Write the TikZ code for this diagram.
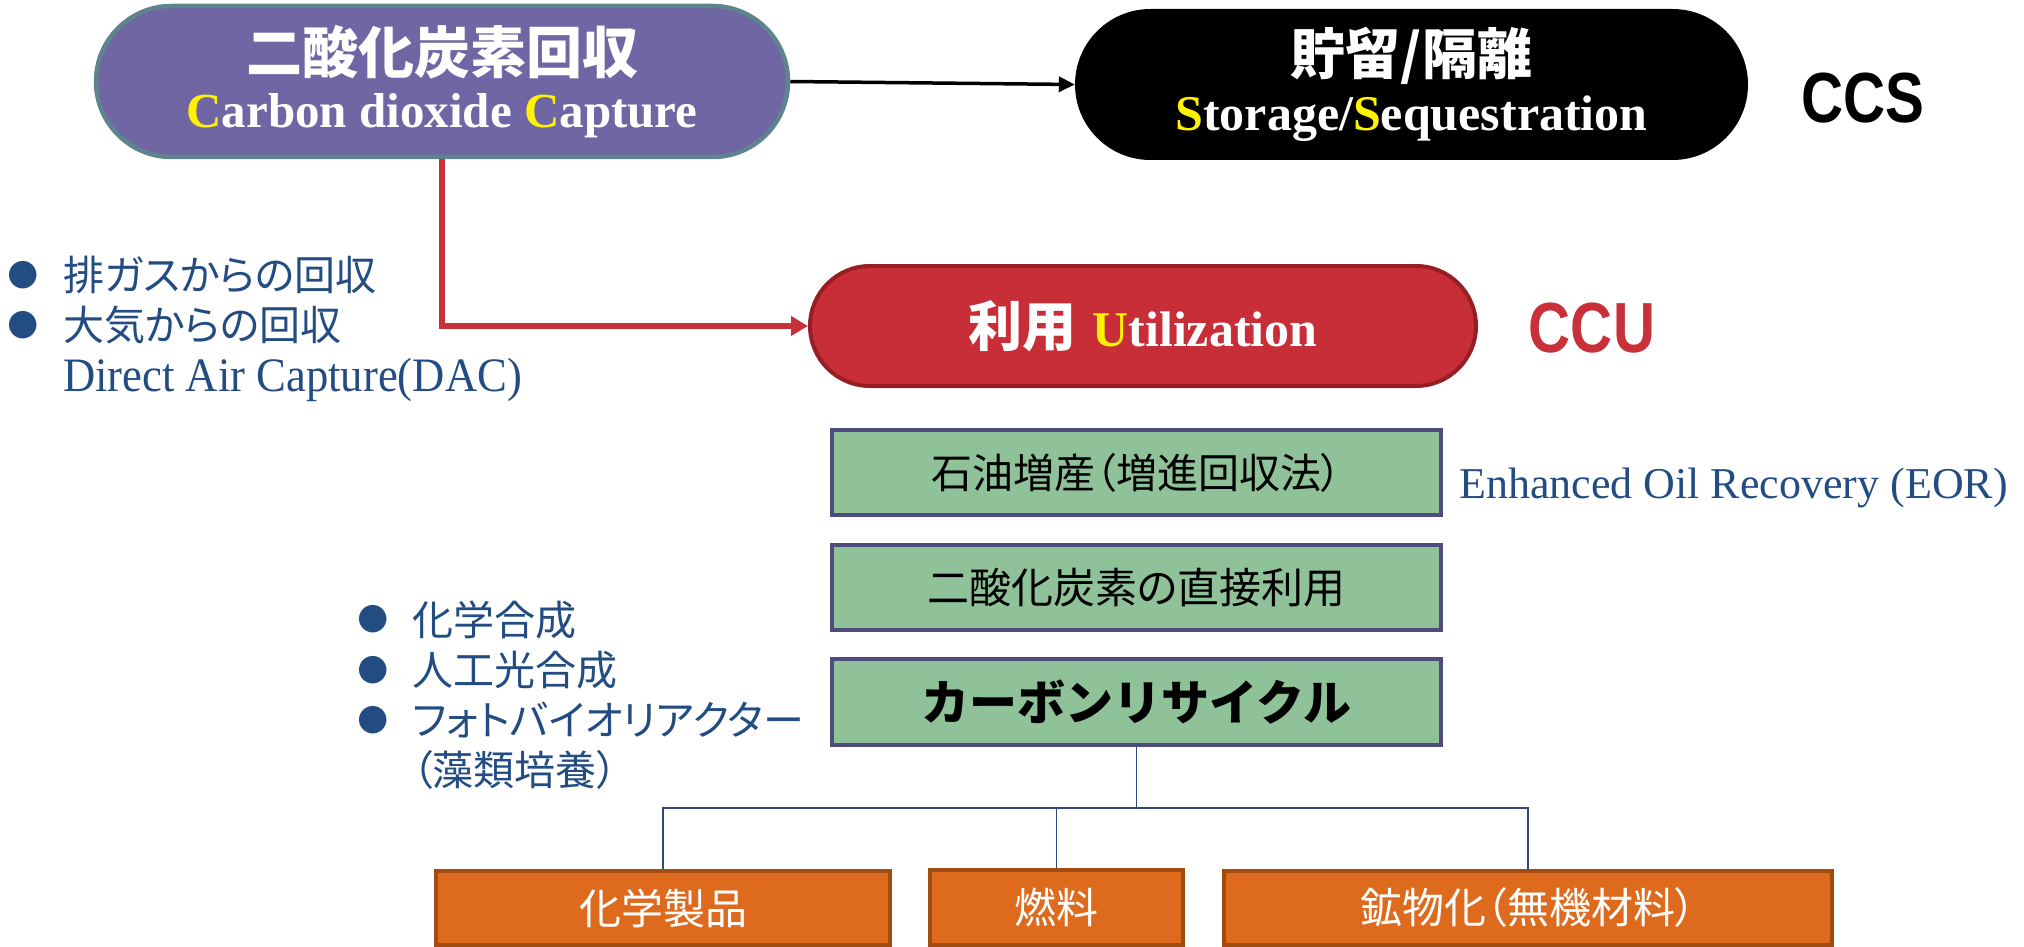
\documentclass[tikz,border=0pt]{standalone}
\usepackage{fontspec}
\setmainfont{Liberation Serif}
\newfontfamily\jp{Noto Sans CJK JP}
\newfontfamily\jpp[RawFeature=+palt]{Noto Sans CJK JP}
\newfontfamily\lserif{Liberation Serif}
\newfontfamily\lserifn[FakeStretch=0.93]{Liberation Serif}
\newfontfamily\narrowsans[FakeStretch=0.82]{Liberation Sans}
\newfontfamily\dejavu{DejaVu Sans}
\usetikzlibrary{shapes.misc,arrows.meta}
\newcommand\setfs[1]{\fontsize{#1}{#1}\selectfont}
\definecolor{capfill}{RGB}{111,102,163}
\definecolor{capline}{RGB}{94,132,142}
\definecolor{utilfill}{RGB}{200,46,55}
\definecolor{utilline}{RGB}{150,30,36}
\definecolor{gfill}{RGB}{143,194,152}
\definecolor{gline}{RGB}{80,75,125}
\definecolor{ofill}{RGB}{222,106,30}
\definecolor{oline}{RGB}{163,76,18}
\definecolor{ccured}{RGB}{200,48,58}
\definecolor{navy}{RGB}{34,76,130}
\definecolor{treeblue}{RGB}{47,72,120}
\tikzset{
  pill/.style={shape=rounded rectangle, inner sep=0pt, align=center, text=white},
  gbox/.style={draw=gline, fill=gfill, line width=4pt, minimum width=609pt, minimum height=85pt, inner sep=0pt},
  obox/.style={draw=oline, fill=ofill, line width=4pt, minimum height=74pt, inner sep=0pt, text=white, font={\jpp\setfs{42}}},
  bulletmark/.style={inner sep=0pt, text=navy, font={\dejavu\setfs{36}}},
  listline/.style={inner sep=0pt, anchor=west, text=navy, font={\jpp\setfs{41}}},
  tag/.style={inner sep=0pt, font={\narrowsans\bfseries\setfs{71}}},
  tree/.style={draw=treeblue, line width=1.5pt},
  blackarrow/.style={draw=black, line width=3.5pt, -{Triangle[length=16pt,width=15pt]}},
  redarrow/.style={draw=ccured, line width=5.5pt, -{Triangle[length=17pt,width=19pt]}}
}
\begin{document}
\begin{tikzpicture}[x=1pt,y=-1pt]
\useasboundingbox (0,0) rectangle (2024,947);
% top row
\node[pill, fill=capfill, draw=capline, line width=4.5pt, minimum width=692pt, minimum height=151pt,
      font={\fontsize{49}{54}\selectfont}] (capture) at (442,81.5)
  {{\jp\bfseries\setfs{56}二酸化炭素回収}\\{\lserif\bfseries\setfs{49}\textcolor{yellow}{C}arbon dioxide \textcolor{yellow}{C}apture}};
\node[pill, fill=black, minimum width=673pt, minimum height=151pt,
      font={\fontsize{50}{56}\selectfont}] (store) at (1411.5,84.5)
  {{\jp\bfseries\setfs{55}貯留/隔離}\\{\lserif\bfseries\setfs{50}\textcolor{yellow}{S}torage/\textcolor{yellow}{S}equestration}};
\node[tag, text=black] (ccs) at (1863,98) {CCS};
% utilization
\node[pill, fill=utilfill, draw=utilline, line width=4pt, minimum width=666pt, minimum height=120pt] (util) at (1143,326)
  {{\jp\bfseries\setfs{54}利用}\hspace{16pt}{\lserif\bfseries\setfs{50}\textcolor{yellow}{U}tilization}};
\node[tag, text=ccured] (ccu) at (1592,328) {CCU};
% arrows
\draw[blackarrow] (capture.east) -- (store.west);
\draw[redarrow] (capture.south) |- (util.west);
% capture methods list
\node[bulletmark] (b1) at (23,275) {●};
\node[bulletmark] (b2) at (23,325) {●};
\node[listline] (l1) at (63,275) {排ガスからの回収};
\node[listline] (l2) at (63,325) {大気からの回収};
\node[inner sep=0pt, anchor=base west, text=navy, font={\lserifn\setfs{48}}] (l3) at (63,391) {Direct Air Capture(DAC)};
% green boxes
\node[gbox, font={\jpp\setfs{41}}] (eor) at (1136.5,472.5) {石油増産（増進回収法）};
\node[inner sep=0pt, anchor=base west, text=navy, font={\lserif\setfs{44}}] (eortxt) at (1459,498) {Enhanced Oil Recovery (EOR)};
\node[gbox, font={\jpp\setfs{42}}] (direct) at (1136.5,587.5) {二酸化炭素の直接利用};
\node[gbox, minimum height=86pt, font={\jp\bfseries\setfs{48}}] (rec) at (1136.5,702) {カーボンリサイクル};
% recycle methods list
\node[bulletmark] (b4) at (373,619) {●};
\node[bulletmark] (b5) at (373,670) {●};
\node[bulletmark] (b6) at (373,720) {●};
\node[listline] (m1) at (412,620) {化学合成};
\node[listline] (m2) at (412,670) {人工光合成};
\node[listline] (m3) at (412,720) {フォトバイオリアクター};
\node[listline] (m4) at (412,770) {（藻類培養）};
% products
\node[obox, minimum width=454pt] (chem) at (663,908) {化学製品};
\node[obox, minimum width=253pt, minimum height=75pt] (fuel) at (1056.5,907.5) {燃料};
\node[obox, minimum width=608pt] (mineral) at (1528,908) {鉱物化（無機材料）};
% tree
\coordinate (split) at (1136.5,808);
\draw[tree] (rec.south) -- (split);
\draw[tree] (chem.north) |- (split) -| (mineral.north);
\draw[tree] (fuel.north) |- (split);
\end{tikzpicture}
\end{document}
